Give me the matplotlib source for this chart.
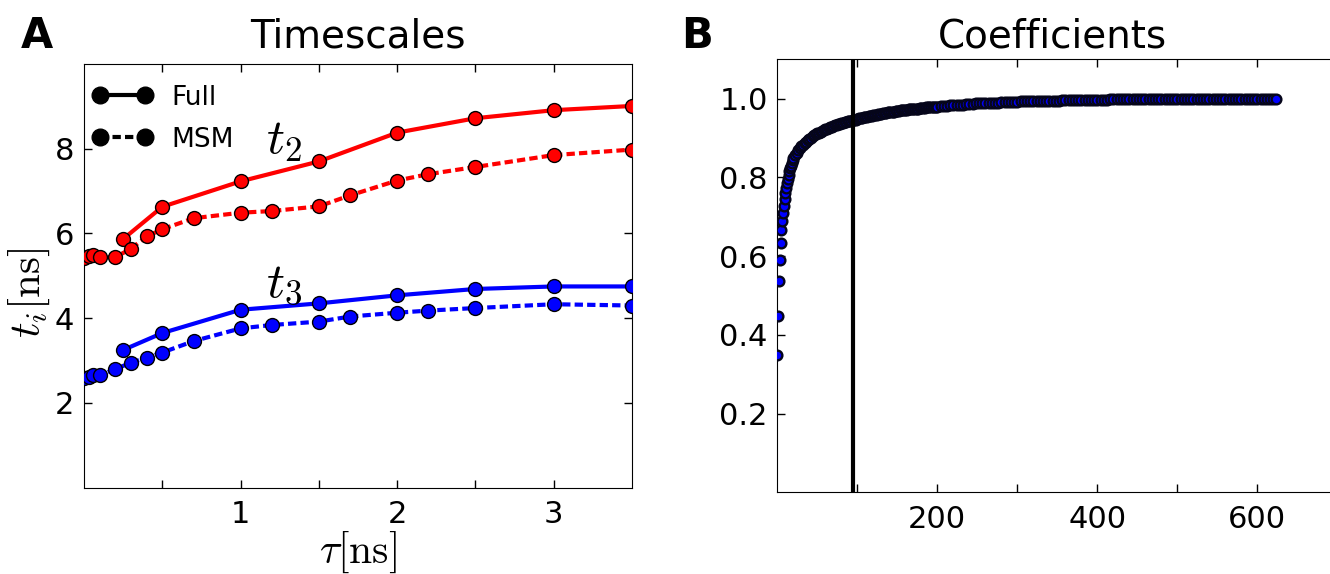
import numpy as np
import matplotlib
matplotlib.use('Agg')
import matplotlib.pyplot as plt
from matplotlib.lines import Line2D

plt.rcParams['mathtext.fontset'] = 'cm'
plt.rcParams['font.family'] = 'DejaVu Sans'

# panel A: implied timescales
tau_full = [0.25, 0.5, 1.0, 1.5, 2.0, 2.5, 3.0, 3.5]
t2_full = [5.87, 6.63, 7.23, 7.70, 8.38, 8.72, 8.91, 9.01]
t3_full = [3.25, 3.65, 4.20, 4.35, 4.54, 4.69, 4.75, 4.75]

tau_msm = [0.0, 0.03, 0.06, 0.1, 0.2, 0.3, 0.4, 0.5, 0.7, 1.0, 1.2, 1.5, 1.7,
           2.0, 2.2, 2.5, 3.0, 3.5]
t2_msm = [5.42, 5.47, 5.49, 5.45, 5.44, 5.64, 5.93, 6.10, 6.36, 6.49, 6.53,
          6.64, 6.90, 7.25, 7.40, 7.57, 7.85, 7.98]
t3_msm = [2.58, 2.62, 2.65, 2.65, 2.80, 2.95, 3.07, 3.19, 3.46, 3.76, 3.84,
          3.92, 4.04, 4.13, 4.18, 4.24, 4.33, 4.30]

# panel B: coefficients
coef_idx = (list(range(0, 21)) + list(range(22, 100, 2))
            + list(range(100, 200, 2)) + list(range(200, 621, 4)) + [623])
coef_val = [
    # 0..20
    0.350, 0.448, 0.537, 0.591, 0.633, 0.666, 0.689, 0.710, 0.728, 0.745,
    0.760, 0.773, 0.785, 0.796, 0.806, 0.815, 0.823, 0.830, 0.837, 0.843,
    0.848,
    # 22..98
    0.856, 0.863, 0.869, 0.874, 0.879, 0.883, 0.887, 0.891, 0.895, 0.898,
    0.901, 0.904, 0.907, 0.910, 0.912, 0.914, 0.916, 0.919, 0.921, 0.923,
    0.924, 0.926, 0.928, 0.929, 0.931, 0.932, 0.934, 0.935, 0.936, 0.938,
    0.939, 0.940, 0.941, 0.942, 0.943, 0.944, 0.945, 0.946, 0.947,
    # 100..198
    0.949, 0.950, 0.951, 0.952, 0.953, 0.953, 0.954, 0.955, 0.956, 0.957,
    0.958, 0.959, 0.959, 0.960, 0.961, 0.962, 0.963, 0.963, 0.964, 0.965,
    0.966, 0.966, 0.967, 0.967, 0.968, 0.969, 0.969, 0.970, 0.970, 0.971,
    0.972, 0.972, 0.973, 0.973, 0.974, 0.974, 0.975, 0.975, 0.975, 0.976,
    0.976, 0.977, 0.977, 0.978, 0.978, 0.978, 0.979, 0.979, 0.979, 0.980,
    # 200..620
    0.980, 0.981, 0.981, 0.982, 0.983, 0.984, 0.984, 0.985, 0.985, 0.986,
    0.987, 0.987, 0.988, 0.988, 0.988, 0.989, 0.989, 0.990, 0.990, 0.990,
    0.991, 0.991, 0.992, 0.992, 0.992, 0.992, 0.993, 0.993, 0.993, 0.993,
    0.994, 0.994, 0.994, 0.994, 0.995, 0.995, 0.995, 0.995, 0.995, 0.996,
    0.996, 0.996, 0.996, 0.996, 0.996, 0.997, 0.997, 0.997, 0.997, 0.997,
    0.997, 0.997, 0.997, 0.997, 0.998, 0.998, 0.998, 0.998, 0.998, 0.998,
    0.998, 0.998, 0.998, 0.998, 0.998, 0.998, 0.998, 0.999, 0.999, 0.999,
    0.999, 0.999, 0.999, 0.999, 0.999, 0.999, 0.999, 0.999, 0.999, 0.999,
    0.999, 0.999, 0.999, 0.999, 0.999, 0.999, 0.999, 0.999, 0.999, 0.999,
    0.999, 0.999, 0.999, 0.999, 0.999, 0.999, 0.999, 0.999, 0.999, 0.999,
    0.999, 0.999, 0.999, 0.999, 0.999, 0.999,
    # 623
    1.000,
]
cutoff = 94

W, H = 1330, 574
fig = plt.figure(figsize=(W / 100, H / 100), dpi=100)
axA = fig.add_axes([84 / W, 1 - 487.7 / H, 548 / W, 423.7 / H])
axB = fig.add_axes([777.3 / W, 1 - 492.3 / H, 560 / W, 433 / H])

tick_kw = dict(direction='in', length=6, width=1, labelsize=22, top=True)

# --- A
ms = 10
axA.plot(tau_full, t2_full, '-o', color='red', lw=3, ms=ms, mfc='red',
         mec='k', mew=1, zorder=3)
axA.plot(tau_msm, t2_msm, '--o', color='red', lw=3, ms=ms, mfc='red',
         mec='k', mew=1, dashes=(2, 1), zorder=3)
axA.plot(tau_full, t3_full, '-o', color='blue', lw=3, ms=ms, mfc='blue',
         mec='k', mew=1, zorder=3)
axA.plot(tau_msm, t3_msm, '--o', color='blue', lw=3, ms=ms, mfc='blue',
         mec='k', mew=1, dashes=(2, 1), zorder=3)
axA.set_xlim(0, 3.5)
axA.set_ylim(0, 10)
axA.set_xticks([0.5, 1, 1.5, 2, 2.5, 3])
axA.set_xticklabels(['', '1', '', '2', '', '3'])
axA.set_yticks([2, 4, 6, 8])
axA.tick_params(axis='x', pad=9, **tick_kw)
axA.tick_params(axis='y', pad=7, right=True, **tick_kw)
axA.text(1.277, 8.21, '$t_2$', fontsize=36, ha='center', va='center')
axA.text(1.277, 4.83, '$t_3$', fontsize=36, ha='center', va='center')
axA.set_xlabel(r'$\tau[\mathrm{ns}]$', fontsize=30, labelpad=0)
axA.set_ylabel(r'$t_i[\mathrm{ns}]$', fontsize=31)
axA.yaxis.set_label_coords(-0.058, 0.46)

handles = [Line2D([], [], color='k', ls='-', lw=3, marker='o', ms=12),
           Line2D([], [], color='k', ls='--', lw=3, marker='o', ms=12,
                  dashes=(2, 1))]
axA.legend(handles, ['Full', 'MSM'], loc='upper left',
           bbox_to_anchor=(-0.005, 0.976), borderaxespad=0, frameon=False,
           fontsize=19, numpoints=2, handlelength=2.3, labelspacing=0.6,
           handletextpad=0.72)

# --- B
axB.plot(coef_idx, coef_val, 'o', ms=7, mfc='blue', mec='#05051a', mew=1.7,
         ls='none', zorder=3)
axB.axvline(cutoff, color='k', lw=3, zorder=4)
axB.set_xlim(0, 700)
axB.set_ylim(0, 1.1)
axB.set_xticks([100, 200, 300, 400, 500, 600])
axB.set_xticklabels(['', '200', '', '400', '', '600'])
axB.set_yticks([0.2, 0.4, 0.6, 0.8, 1.0])
axB.tick_params(axis='x', pad=9, **tick_kw)
axB.tick_params(axis='y', pad=7, right=False, **tick_kw)

# titles and panel letters
fig.text(358 / W, 1 - 48 / H, 'Timescales', fontsize=28, ha='center',
         va='baseline')
fig.text(1052 / W, 1 - 48 / H, 'Coefficients', fontsize=28, ha='center',
         va='baseline')
fig.text(21 / W, 1 - 48 / H, 'A', fontsize=30, fontweight='bold',
         va='baseline')
fig.text(681 / W, 1 - 48 / H, 'B', fontsize=30, fontweight='bold',
         va='baseline')

fig.savefig('out.png', dpi=100)
